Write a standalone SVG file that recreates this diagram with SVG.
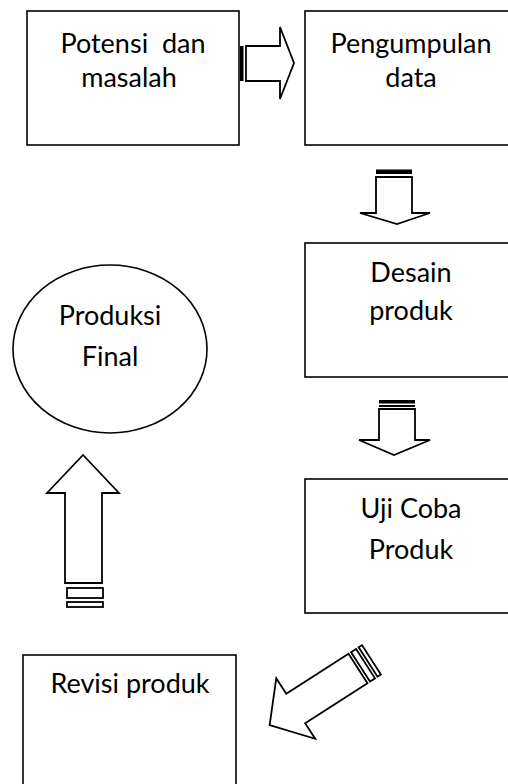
<svg xmlns="http://www.w3.org/2000/svg" width="508" height="784" viewBox="0 0 508 784">
<style>
.box{fill:#fff;stroke:#000;stroke-width:1.6}
.arr{fill:#fff;stroke:#000;stroke-width:1.8;stroke-linejoin:miter}
.band{fill:#000}
.t{font-family:Lato,"Open Sans",sans-serif;font-size:27px;fill:#000;text-anchor:middle}
</style>
<rect width="508" height="784" fill="#fff"/>
<g id="connectors">
  <g id="arrow-right">
    <rect class="band" x="240" y="46" width="3.5" height="35"/>
    <polygon class="arr" points="246,46 280,46 280,27 294,63 280,99 280,81 246,81"/>
  </g>
  <g id="arrow-down-1">
    <rect class="band" x="376" y="169.5" width="36" height="4.5"/>
    <polygon class="arr" points="376,177 412,177 412,213 430,213 397,224 360,213 376,213"/>
  </g>
  <g id="arrow-down-2">
    <rect class="band" x="379" y="400" width="36" height="3.5"/>
    <rect class="band" x="379" y="405" width="36" height="2"/>
    <polygon class="arr" points="379,409 415,409 415,440 430,440 394,455 359,440 379,440"/>
  </g>
  <g id="arrow-diagonal" transform="translate(358,668.5) rotate(147.3)">
    <rect class="arr" x="-9" y="-17.5" width="6" height="35"/>
    <rect class="arr" x="-16" y="-17.5" width="4" height="35"/>
    <polygon class="arr" points="0,-17.5 74,-17.5 74,-36 105,0 74,36 74,17.5 0,17.5"/>
  </g>
  <g id="arrow-up">
    <polygon class="arr" points="65,583 65,493 47,493 83,455 119,493 102,493 102,583"/>
    <rect class="arr" x="67" y="588" width="36" height="10"/>
    <rect class="arr" x="67" y="602" width="36" height="5"/>
  </g>
</g>
<g id="potensi">
  <rect class="box" x="27" y="11" width="212" height="134"/>
  <text class="t" x="133" y="53" xml:space="preserve">Potensi  dan</text>
  <text class="t" x="129" y="87">masalah</text>
</g>
<g id="pengumpulan">
  <rect class="box" x="305" y="11" width="210" height="134"/>
  <text class="t" x="411" y="53">Pengumpulan</text>
  <text class="t" x="411" y="87">data</text>
</g>
<g id="desain">
  <rect class="box" x="305" y="243" width="210" height="134"/>
  <text class="t" x="411" y="282">Desain</text>
  <text class="t" x="411" y="320">produk</text>
</g>
<g id="ujicoba">
  <rect class="box" x="305" y="479" width="210" height="134"/>
  <text class="t" x="411" y="518">Uji Coba</text>
  <text class="t" x="411" y="559">Produk</text>
</g>
<g id="produksi">
  <ellipse class="box" cx="110" cy="349" rx="97" ry="84"/>
  <text class="t" x="110" y="325">Produksi</text>
  <text class="t" x="110" y="366">Final</text>
</g>
<g id="revisi">
  <rect class="box" x="23" y="655" width="213" height="140"/>
  <text class="t" x="130" y="693">Revisi produk</text>
</g>
</svg>
